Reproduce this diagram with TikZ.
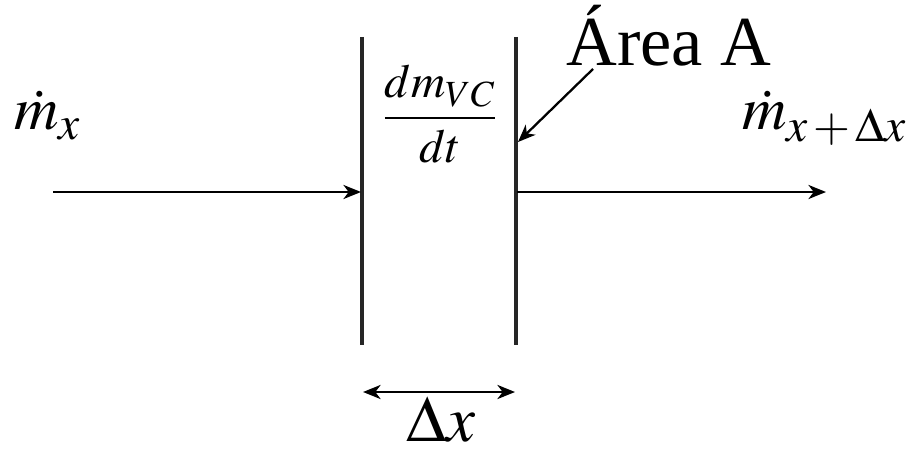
\documentclass[tikz,border=0pt]{standalone}
\usepackage{mathptmx}
\usepackage[no-math]{fontspec}
\setmainfont{Liberation Serif}
\usetikzlibrary{arrows.meta}
\newcommand{\bigsubA}[1]{\mbox{\fontsize{27}{30}\selectfont$#1$}}
\newcommand{\bigsubB}[1]{\mbox{\fontsize{21}{24}\selectfont$#1$}}
\tikzset{
  wall/.style={line width=1.8pt, draw=black!85},
  flow/.style={line width=1.4pt, -{Stealth[length=10pt,width=8pt,inset=3pt]}},
  dim/.style={line width=1.5pt, {Stealth[length=10pt,width=8pt,inset=3pt]}-{Stealth[length=10pt,width=8pt,inset=3pt]}},
  lbl/.style={inner sep=0pt, font=\fontsize{35}{42}\selectfont},
}
\begin{document}
\begin{tikzpicture}[x=0.02cm,y=-0.02cm]
\useasboundingbox (0,0) rectangle (911,449);
% walls
\coordinate (LT) at (362,37);
\coordinate (LB) at (362,345);
\coordinate (RT) at (516,37);
\coordinate (RB) at (516,345);
\draw[wall] (LT) -- (LB);
\draw[wall] (RT) -- (RB);
% flow arrows
\coordinate (inS) at (53,192);
\coordinate (inE) at (361,192);
\coordinate (outS) at (517,192);
\coordinate (outE) at (826,192);
\draw[flow] (inS) -- (inE);
\draw[flow] (outS) -- (outE);
% labels
\node[lbl, anchor=base west] (mx) at (14,130) {$\dot{m}_{\bigsubA{x}}$};
\node[lbl, anchor=base west] (mxdx) at (742,130) {$\dot{m}_{\bigsubA{x\mkern2mu{+}\mkern2mu\Delta x}}$};
\node[inner sep=0pt, font=\fontsize{27}{32}\selectfont] (frac) at (440,114) {$\displaystyle\frac{dm_{\bigsubB{VC}}}{dt}$};
\node[inner sep=0pt, anchor=base west, font=\fontsize{40}{48}\selectfont] (area) at (566,66) {Área A};
% area pointer
\coordinate (aS) at (593,69);
\coordinate (aE) at (518,142);
\draw[flow, line width=1.3pt] (aS) -- (aE);
% dimension
\coordinate (dL) at (363,392);
\coordinate (dR) at (515,392);
\draw[dim] (dL) -- (dR);
\node[inner sep=0pt, anchor=base, font=\fontsize{37}{44}\selectfont] (dx) at (441,441) {$\Delta x$};
\end{tikzpicture}
\end{document}
